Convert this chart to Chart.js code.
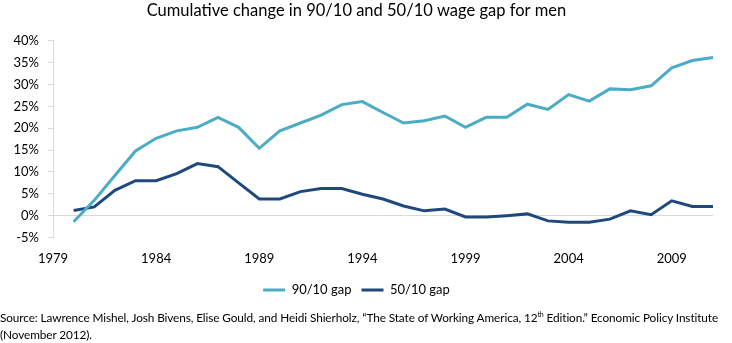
<!DOCTYPE html>
<html>
<head>
<meta charset="utf-8">
<script src="https://cdn.jsdelivr.net/npm/chart.js@4"></script>
<style>
  html, body { margin: 0; padding: 0; background: #fff; }
  #wrap { position: relative; width: 732px; height: 343px; overflow: hidden; }
  #chartBox { position: absolute; left: 0; top: 0; width: 732px; height: 310px; }
  #source { position: absolute; left: 0; top: 309px; width: 760px; white-space: nowrap; font-family: Lato, "Open Sans", sans-serif; font-size: 11.8px; line-height: 17px; color: #000; letter-spacing: -0.1px; }
  #source sup { font-size: 7px; line-height: 0; }
</style>
</head>
<body>
<div id="wrap">
  <div id="chartBox"><canvas id="c" width="732" height="310"></canvas></div>
  <div id="source">Source: Lawrence Mishel, Josh Bivens, Elise Gould, and Heidi Shierholz, “The State of Working America, 12<sup>th</sup> Edition.” Economic Policy Institute<br>(November 2012).</div>
</div>
<script>
const years = [];
for (let y = 1979; y <= 2011; y++) years.push(String(y));
const tickYears = ['1979', '1984', '1989', '1994', '1999', '2004', '2009'];
const gap9010 = [null, -1.4, 3.5, 9.2, 14.8, 17.7, 19.4, 20.2, 22.5, 20.2, 15.4, 19.4, 21.2, 23.0, 25.4, 26.1,
  23.6, 21.2, 21.7, 22.8, 20.2, 22.5, 22.5, 25.5, 24.3, 27.7, 26.2, 29.0, 28.8, 29.7, 33.8, 35.5, 36.2];
const gap5010 = [null, 1.2, 2.0, 5.8, 8.0, 8.0, 9.6, 11.9, 11.2, 7.5, 3.8, 3.8, 5.5, 6.2, 6.2, 4.9,
  3.8, 2.2, 1.1, 1.5, -0.3, -0.3, 0.0, 0.4, -1.2, -1.5, -1.5, -0.8, 1.1, 0.2, 3.4, 2.1, 2.1];
const seriesNames = ['90/10 gap', '50/10 gap'];
const yTicks = [-5, 0, 5, 10, 15, 20, 25, 30, 35, 40];

const FONT = 'Lato, "Open Sans", sans-serif';
new Chart(document.getElementById('c'), {
  type: 'line',
  data: {
    labels: years,
    datasets: [
      { label: seriesNames[0], data: gap9010, borderColor: '#4BACC6', backgroundColor: '#4BACC6', borderWidth: 3, pointRadius: 0, tension: 0 },
      { label: seriesNames[1], data: gap5010, borderColor: '#1F497D', backgroundColor: '#1F497D', borderWidth: 3, pointRadius: 0, tension: 0 }
    ]
  },
  options: {
    responsive: false,
    animation: false,
    layout: { padding: { left: 0, right: 19, top: 0, bottom: 3.5 } },
    plugins: {
      title: {
        display: true,
        text: 'Cumulative change in 90/10 and 50/10 wage gap for men',
        color: '#000',
        font: { family: FONT, size: 16.5, weight: 'normal' },
        padding: { top: 1, bottom: 20 }
      },
      legend: {
        position: 'bottom',
        labels: {
          usePointStyle: true,
          pointStyle: 'line',
          pointStyleWidth: 22,
          color: '#000',
          font: { family: FONT, size: 13 },
          padding: 10
        }
      },
      tooltip: { enabled: false }
    },
    scales: {
      x: {
        type: 'category',
        offset: false,
        grid: { display: false },
        border: { display: false },
        ticks: {
          autoSkip: false,
          maxRotation: 0,
          padding: 6,
          color: '#000',
          font: { family: FONT, size: 13 },
          callback: function (v, i) { const l = this.getLabelForValue(v); return tickYears.includes(l) ? l : null; }
        },
        afterFit: s => { s.height = 36; }
      },
      y: {
        min: -5, max: 40,
        afterBuildTicks: s => { s.ticks = yTicks.map(v => ({ value: v })); },
        grid: {
          drawOnChartArea: true,
          color: ctx => (ctx.tick && ctx.tick.value === 0) ? '#d9d9d9' : 'rgba(0,0,0,0)',
          tickColor: '#d9d9d9',
          tickLength: 5,
          lineWidth: 1
        },
        border: { display: true, color: '#d9d9d9', width: 1 },
        ticks: {
          padding: 9,
          color: '#000',
          font: { family: FONT, size: 13 },
          callback: v => v + '%'
        },
        afterFit: s => { s.width = 53; }
      }
    }
  }
});
</script>
</body>
</html>
